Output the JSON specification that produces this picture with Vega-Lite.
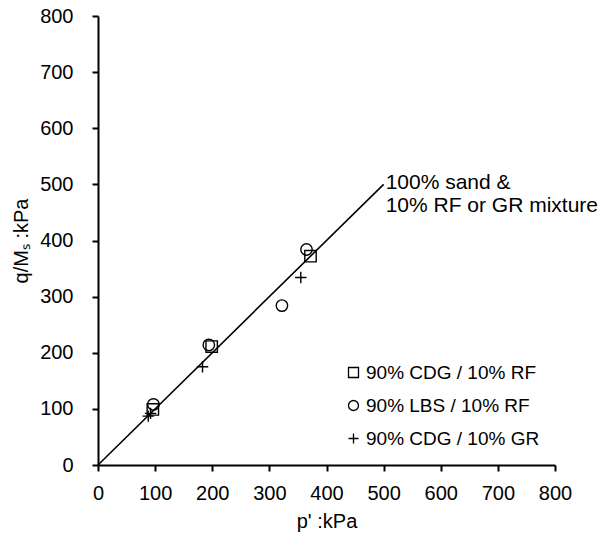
{
  "$schema": "https://vega.github.io/schema/vega-lite/v6.json",
  "autosize": {"type": "none"},
  "width": 457,
  "height": 449,
  "padding": {"left": 98, "top": 16, "right": 48, "bottom": 72},
  "background": "white",
  "config": {
    "font": "Liberation Sans",
    "view": {"stroke": null},
    "axis": {"grid": false, "labelFlush": false, "labelOverlap": false, "domainColor": "black", "domainWidth": 2, "tickColor": "black", "tickWidth": 2, "tickSize": 6, "labelColor": "black", "titleColor": "black", "labelFont": "Liberation Sans", "titleFont": "Liberation Sans", "labelFontSize": 20, "titleFontSize": 20, "titleFontWeight": "normal"}
  },
  "datasets": {
    "pts": [
      {"p": 96, "q": 99, "series": "90% CDG / 10% RF"},
      {"p": 199, "q": 211, "series": "90% CDG / 10% RF"},
      {"p": 372, "q": 372, "series": "90% CDG / 10% RF"},
      {"p": 97, "q": 108, "series": "90% LBS / 10% RF"},
      {"p": 194, "q": 214, "series": "90% LBS / 10% RF"},
      {"p": 322, "q": 284, "series": "90% LBS / 10% RF"},
      {"p": 365, "q": 384, "series": "90% LBS / 10% RF"},
      {"p": 88, "q": 87, "series": "90% CDG / 10% GR"},
      {"p": 92, "q": 92, "series": "90% CDG / 10% GR"},
      {"p": 183, "q": 175, "series": "90% CDG / 10% GR"},
      {"p": 355, "q": 334, "series": "90% CDG / 10% GR"}
    ],
    "fit": [
      {"p": 0, "q": 0},
      {"p": 500, "q": 500}
    ],
    "note": [
      {"p": 500, "q": 500, "label": "100% sand &\n10% RF or GR mixture"}
    ]
  },
  "layer": [
    {
      "data": {"name": "fit"},
      "mark": {"type": "line", "color": "black", "strokeWidth": 1.6},
      "encoding": {
        "x": {"field": "p", "type": "quantitative", "scale": {"domain": [0, 800], "nice": false}, "axis": {"values": [0,100,200,300,400,500,600,700,800], "title": "p' :kPa", "labelPadding": 12, "titleBaseline": "alphabetic", "titleY": 62}},
        "y": {"field": "q", "type": "quantitative", "scale": {"domain": [0, 800], "nice": false}, "axis": {"values": [0,100,200,300,400,500,600,700,800], "title": "q/Mₛ :kPa", "labelPadding": 19, "titleBaseline": "alphabetic", "titleX": -71, "titleY": 224.5, "titleAngle": 270}}
      }
    },
    {
      "data": {"name": "note"},
      "mark": {"type": "text", "align": "left", "baseline": "alphabetic", "dx": 2, "dy": 5, "fontSize": 21, "lineBreak": "\n", "lineHeight": 23, "color": "black", "font": "Liberation Sans"},
      "encoding": {
        "x": {"field": "p", "type": "quantitative"},
        "y": {"field": "q", "type": "quantitative"},
        "text": {"field": "label"}
      }
    },
    {
      "data": {"name": "pts"},
      "mark": {"type": "point", "filled": false, "color": "black", "strokeWidth": 1.4, "size": 130, "opacity": 1},
      "encoding": {
        "x": {"field": "p", "type": "quantitative"},
        "y": {"field": "q", "type": "quantitative"},
        "shape": {
          "field": "series", "type": "nominal",
          "scale": {"domain": ["90% CDG / 10% RF", "90% LBS / 10% RF", "90% CDG / 10% GR"], "range": ["square", "circle", "M-1,0H1M0,-1V1"]},
          "legend": {"title": null, "orient": "none", "legendX": 246, "legendY": 347, "padding": 0, "labelFontSize": 19, "labelFont": "Liberation Sans", "labelColor": "black", "symbolSize": 100, "symbolStrokeColor": "black", "symbolStrokeWidth": 1.3, "symbolFillColor": "transparent", "labelOffset": 3, "rowPadding": 13, "labelLimit": 300}
        }
      }
    }
  ]
}
